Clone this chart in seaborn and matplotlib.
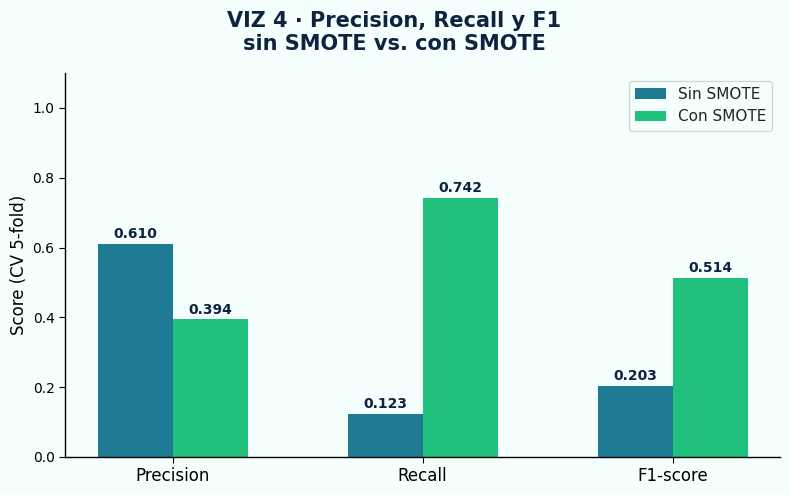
import matplotlib
matplotlib.use("Agg")
import matplotlib.pyplot as plt
import seaborn as sns
import pandas as pd

metrics = ["Precision", "Recall", "F1-score"]
sin_smote = [0.610, 0.123, 0.203]
con_smote = [0.394, 0.742, 0.514]
series = ["Sin SMOTE", "Con SMOTE"]
colors = ["#1f7b93", "#20bf7b"]

df = pd.DataFrame({
    "Métrica": metrics * 2,
    "Score": sin_smote + con_smote,
    "Modelo": [series[0]] * 3 + [series[1]] * 3,
})

sns.set_style("white")
plt.rcParams.update({
    "text.color": "black", "axes.labelcolor": "black",
    "xtick.color": "black", "ytick.color": "black",
    "patch.edgecolor": "none",
})
bg = "#f5fffe"
fig = plt.figure(figsize=(7.89, 4.95), dpi=100, facecolor=bg)
ax = fig.add_axes([65 / 789, 1 - 457 / 495, 715 / 789, 384 / 495])
ax.set_facecolor(bg)

sns.barplot(data=df, x="Métrica", y="Score", hue="Modelo", order=metrics,
            hue_order=series, palette=colors, width=0.6, saturation=1,
            ax=ax, errorbar=None, linewidth=0, edgecolor="none")

for cont in ax.containers:
    ax.bar_label(cont, fmt="%.3f", padding=2, fontsize=10, fontweight="bold",
                 color="#0d2340")

ax.set_xlim(-0.43, 2.43)
ax.set_ylim(0, 1.1)
ax.set_yticks([0, 0.2, 0.4, 0.6, 0.8, 1.0])
ax.set_xlabel("")
ax.set_ylabel("Score (CV 5-fold)", fontsize=12, labelpad=3)
ax.tick_params(axis="x", labelsize=12, length=4, bottom=True, colors="black")
ax.tick_params(axis="y", labelsize=10, length=4, left=True, colors="black")
for s in ["top", "right"]:
    ax.spines[s].set_visible(False)
for s in ["left", "bottom"]:
    ax.spines[s].set_color("black")
    ax.spines[s].set_linewidth(1)

leg = ax.legend(loc="upper right", fontsize=11, title=None, frameon=True)
leg.get_frame().set_facecolor(bg)
for t in leg.get_texts():
    t.set_color("#222222")

fig.suptitle("VIZ 4 · Precision, Recall y F1\nsin SMOTE vs. con SMOTE",
             fontsize=15, fontweight="bold", color="#0d2340", y=0.978)

fig.savefig("out.png", dpi=100, facecolor=bg)
